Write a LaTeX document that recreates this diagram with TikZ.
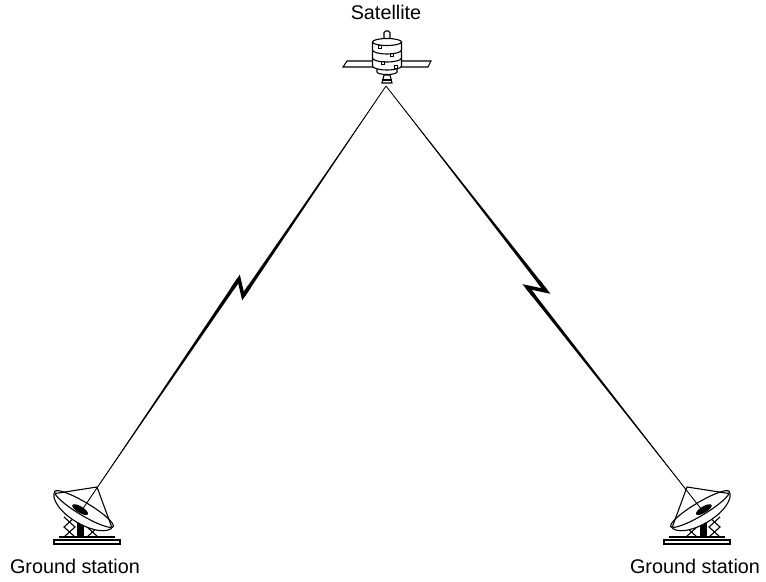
\documentclass[tikz,border=0pt]{standalone}
\usepackage{fontspec}
\setmainfont{Liberation Sans}
\usetikzlibrary{calc}

\tikzset{
  link/.style={line width=0.4pt},
  bolt/.style={line width=1.8pt, line join=miter, miter limit=25},
  thin/.style={line width=0.55pt},
  lbl/.style={font=\fontsize{9.9}{12}\selectfont, inner sep=0pt},
  dish/.pic={
    % basamento
    \draw[thin] (-33,0) rectangle (33,4);
    \draw[line width=0.7pt] (-28,-3) -- (28,-3);
    % tralicci
    \foreach \a/\b in {-23/-12, 0/11} {
      \draw[thin] (\a,-3) -- (\b,-13) -- (\a,-23);
      \draw[thin] (\b,-3) -- (\a,-13) -- (\b,-23);
    }
    \fill (-10,-26) rectangle (-3,-3);
    % parabola
    \begin{scope}[shift={(-3,-31)}, rotate=-31]
      \draw[thin, fill=white] (-34,0) arc[start angle=180, end angle=0, x radius=34, y radius=15] -- cycle;
      \draw[thin, fill=white] (0,0) ellipse [x radius=34, y radius=6.5];
      \fill (-3,2.5) ellipse [x radius=9, y radius=3.2];
      \coordinate (-r1) at (165:34 and 6.5);
      \coordinate (-r2) at (12:34 and 6.5);
    \end{scope}
    \coordinate (-apex) at (10,-53);
    \coordinate (-feed) at (-5,-30);
    \draw[thin] (-r1) -- (-apex) -- (-r2);
  }
}

\begin{document}
\begin{tikzpicture}[x=0.5pt, y=-0.5pt]
  \useasboundingbox (0,0) rectangle (766,582);

  % Satellite
  \begin{scope}[shift={(387,0)}]
    \draw[thin, fill=white, rounded corners=0.8pt] (-3,41) -- (-3,31) -- (3,31) -- (3,41);
    \draw[thin, fill=white] (-14,61) -- (-40,61) -- (-44,67) -- (-14,67);
    \draw[thin, fill=white] (14,61) -- (44,61) -- (41,67) -- (14,67);
    \draw[thin, fill=white] (-10,66) -- (-10,72) arc[start angle=180, end angle=0, x radius=10, y radius=2.5] -- (10,66);
    \draw[thin, fill=white] (-14.5,42) -- (-14.5,66) arc[start angle=180, end angle=0, x radius=14.5, y radius=4] -- (14.5,42);
    \draw[thin, fill=white] (0,42) ellipse [x radius=14.5, y radius=3.5];
    \foreach \yy in {50, 58}
      \draw[thin] (-14.5,\yy) arc[start angle=180, end angle=0, x radius=14.5, y radius=4];
    \foreach \p in {(-9,45), (3,53), (-6,61), (7,65)}
      \draw[line width=0.4pt] \p rectangle ++(3,3);
    \draw[thin, fill=white] (-3,75) -- (-5,83) -- (5,83) -- (3,75) -- cycle;
    \draw[thin] (-5,80) -- (5,80);
  \end{scope}
  \node[lbl] (satlbl) at (386,12) {Satellite};

  % Stazioni a terra
  \pic (dl) at (87,540) {dish};
  \pic[xscale=-1] (dr) at (697,540) {dish};
  \node[lbl] (gsl) at (75,566) {Ground station};
  \node[lbl] (gsr) at (695,566) {Ground station};

  % Collegamenti
  \coordinate (sat) at (386,86);
  \coordinate (bl1) at (243,296);
  \coordinate (bl2) at (239,279);
  \coordinate (br1) at (546,291);
  \coordinate (br2) at (527,287);

  \foreach \s/\a/\b/\g in {sat/bl1/bl2/dl-feed, sat/br1/br2/dr-feed} {
    \draw[link] (\s) -- (\a);
    \fill (\s) -- ($(\a)!0.9pt!90:(\s)$) -- ($(\a)!0.9pt!-90:(\s)$) -- cycle;
    \draw[link] (\b) -- (\g);
    \fill (\g) -- ($(\b)!0.9pt!90:(\g)$) -- ($(\b)!0.9pt!-90:(\g)$) -- cycle;
    \draw[bolt] ($(\a)!6pt!(\s)$) -- (\a) -- (\b) -- ($(\b)!6pt!(\g)$);
  }
\end{tikzpicture}
\end{document}
